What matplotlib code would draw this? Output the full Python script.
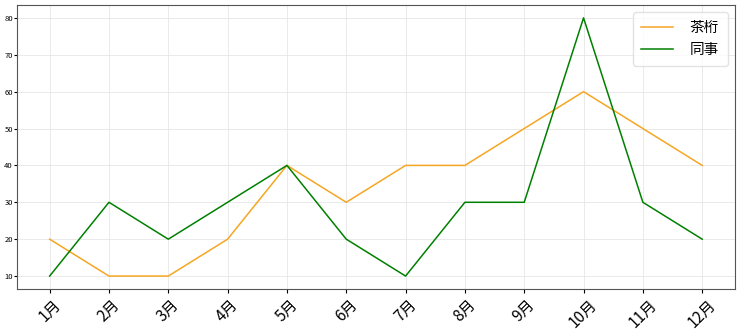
import matplotlib
matplotlib.use("Agg")
import matplotlib.pyplot as plt

plt.rcParams['font.family'] = ['Noto Sans CJK SC', 'DejaVu Sans']

months = ['1月', '2月', '3月', '4月', '5月', '6月', '7月', '8月', '9月', '10月', '11月', '12月']
chaheng = [20, 10, 10, 20, 40, 30, 40, 40, 50, 60, 50, 40]
tongshi = [10, 30, 20, 30, 40, 20, 10, 30, 30, 80, 30, 20]

fig = plt.figure(figsize=(7.4, 3.31), dpi=100)
ax = fig.add_axes([0.023, 0.127, 0.970, 0.858])
x = list(range(len(months)))
ax.plot(x, chaheng, color='#f5a623', lw=1.1, label='茶桁')
ax.plot(x, tongshi, color='#008000', lw=1.1, label='同事')
ax.set_xticks(x)
ax.set_xticklabels(months, rotation=45, fontsize=11)
ax.tick_params(axis='y', labelsize=5.5, length=2, pad=1)
ax.tick_params(axis='x', length=3, pad=2)
ax.grid(True, color='#e6e6e6', lw=0.6)
for s in ax.spines.values():
    s.set_color('#555555')
ax.legend(loc='upper right', fontsize=10.5, handlelength=2.2, handletextpad=1.1,
          labelspacing=0.55, borderpad=0.6, framealpha=0.8, edgecolor='#dddddd')
fig.savefig('out.png', dpi=100)
